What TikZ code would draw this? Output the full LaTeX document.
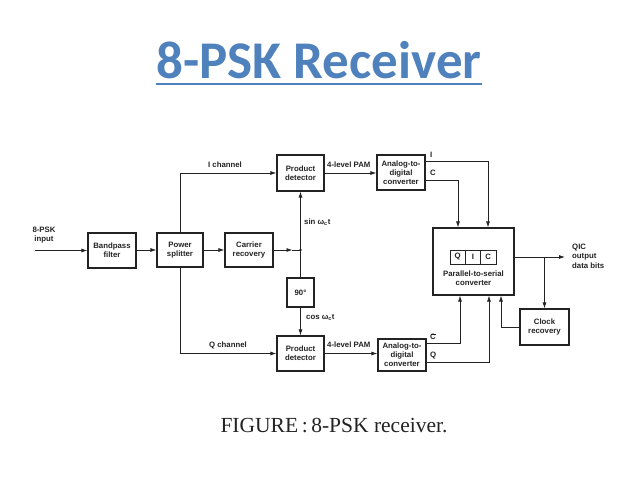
\documentclass[tikz,border=0pt]{standalone}
\usepackage{fontspec}
\setmainfont{Liberation Sans}
\newfontfamily\titlefont{Carlito}
\newfontfamily\capfont{Liberation Serif}
\usetikzlibrary{arrows.meta,calc}
\definecolor{titleblue}{RGB}{79,129,189}
\definecolor{ink}{RGB}{35,35,35}
\begin{document}
\begin{tikzpicture}[x=1pt,y=-1pt,
  blk/.style={draw=ink,line width=1.1pt,inner sep=0pt,align=center,font=\fontsize{7.8}{9.2}\selectfont\bfseries,text=ink},
  cell/.style={draw=ink,line width=0.9pt,inner sep=0pt,minimum width=15.3pt,minimum height=14pt,font=\fontsize{7.8}{8}\selectfont\bfseries,text=ink},
  lbl/.style={inner sep=0pt,font=\fontsize{7.8}{9.2}\selectfont\bfseries,text=ink,align=left},
  wire/.style={draw=ink,line width=0.8pt},
  arr/.style={wire,-{Latex[length=6pt,width=4pt]}}]
\fill[white] (0,0) rectangle (638,479);
\useasboundingbox (0,0) rectangle (638,479);
% title
\node[inner sep=0pt,anchor=base,text=titleblue,font=\titlefont\bfseries\fontsize{53}{60}\selectfont] (title) at (319,78) {8-PSK Receiver};
\draw[titleblue,line width=2.6pt] ([yshift=-6pt]title.base west) -- ([yshift=-6pt]title.base east);
% caption
\node[inner sep=0pt,anchor=base,text=ink,font=\capfont\fontsize{21.5}{26}\selectfont] (cap) at (334,432) {FIGURE\,:\,8-PSK receiver.};
% blocks
\node[blk,minimum width=48pt,minimum height=35pt] (bpf) at (112,250.5) {Bandpass\\filter};
\node[blk,minimum width=46pt,minimum height=34pt] (ps) at (180,250) {Power\\splitter};
\node[blk,minimum width=48pt,minimum height=34pt] (cr) at (249,250) {Carrier\\recovery};
\node[blk,minimum width=47pt,minimum height=36pt] (pdt) at (300.5,173) {Product\\detector};
\node[blk,minimum width=48pt,minimum height=35pt] (adct) at (401,172.5) {Analog-to-\\digital\\converter};
\node[blk,minimum width=27pt,minimum height=29pt] (ninety) at (300.5,292.5) {90\textdegree};
\node[blk,minimum width=47pt,minimum height=35pt] (pdb) at (300.5,353.5) {Product\\detector};
\node[blk,minimum width=48pt,minimum height=32pt] (adcb) at (402,355) {Analog-to-\\digital\\converter};
\node[blk,minimum width=81pt,minimum height=67pt] (pts) at (473.5,261.5) {};
\node[cell] (cq) at (457.7,257) {Q};
\node[cell] (ci) at (473,257) {I};
\node[cell] (cc) at (488.3,257) {C};
\node[lbl,align=center,anchor=north] (ptstext) at (473.5,270.5) {Parallel-to-serial\\converter};
\node[blk,minimum width=49pt,minimum height=36pt] (clk) at (544.5,327) {Clock\\recovery};
% input
\node[lbl,align=center] (inlbl) at (44,235) {8-PSK\\input};
\coordinate (in) at (35,250.5);
\draw[arr] (in) -- (bpf.west);
\draw[arr] (bpf.east |- ps.west) -- (ps.west);
\draw[arr] (ps.east) -- (cr.west);
% carrier to junction
\coordinate (jn) at (300.5,250);
\draw[arr] (cr.east) -- ([xshift=-8pt]jn);
\draw[wire] ([xshift=-9pt]jn) -- (jn);
\fill[ink] (jn) circle (1.3pt);
\draw[arr] (jn) -- (pdt.south);
\draw[wire] (jn) -- (ninety.north);
\draw[arr] (ninety.south) -- (pdb.north);
\node[lbl,anchor=west] (sinlbl) at (304,222) {sin ω\textsubscript{c}t};
\node[lbl,anchor=west] (coslbl) at (306,317) {cos ω\textsubscript{c}t};
% I and Q channels
\coordinate (itop) at (180,173);
\coordinate (qbot) at (180,353.5);
\draw[arr] (ps.north) -- (itop) -- (pdt.west);
\draw[arr] (ps.south) -- (qbot) -- (pdb.west);
\node[lbl] (ichl) at (225,165) {I channel};
\node[lbl] (qchl) at (228,345.5) {Q channel};
% PAM
\draw[arr] (pdt.east) -- (pdt.east -| adct.west);
\draw[arr] (pdb.east) -- (pdb.east -| adcb.west);
\node[lbl,anchor=west] (pamt) at (327,165) {4-level PAM};
\node[lbl,anchor=west] (pamb) at (327,344.5) {4-level PAM};
% ADC top outputs
\coordinate (iout) at (425,161);
\coordinate (cout) at (425,180);
\draw[arr] (iout) -| ($(pts.north)+(14.5,0)$);
\draw[arr] (cout) -| ($(pts.north)+(-15.5,0)$);
\node[lbl,anchor=west] (ilbl) at (430,154.5) {I};
\node[lbl,anchor=west] (clbl) at (430,173) {C};
% ADC bottom outputs
\coordinate (cbout) at (426,343.5);
\coordinate (qout) at (426,362);
\draw[arr] (cbout) -| ($(pts.south)+(-13.5,0)$);
\draw[arr] (qout) -| ($(pts.south)+(15.5,0)$);
\node[lbl,anchor=west] (cblbl) at (430,336.5) {C\llap{\raisebox{1.25ex}{\rule{0.6em}{0.6pt}}\kern0.02em}};
\node[lbl,anchor=west] (qlbl) at (430,356) {Q};
% output
\coordinate (obr) at (544.5,257);
\coordinate (out) at (565,257);
\draw[arr] (pts.east |- out) -- (out);
\draw[arr] (obr) -- (clk.north);
\node[lbl,anchor=north west] (outlbl) at (572,244) {QIC\\output\\data bits};
% clock back
\coordinate (cbend) at (501,327);
\draw[arr] (clk.west) -- (cbend) -- ($(pts.south)+(27.5,0)$);
\end{tikzpicture}
\end{document}
